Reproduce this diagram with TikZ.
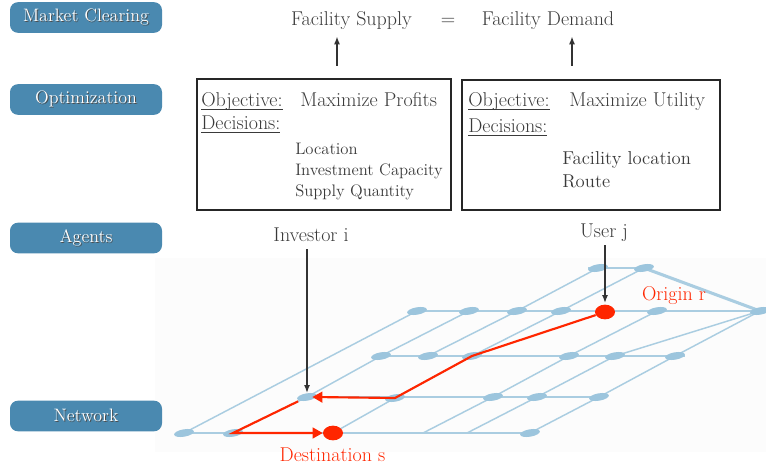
\documentclass[tikz,border=0pt]{standalone}
\usetikzlibrary{positioning,arrows.meta,shapes.geometric,calc}
\definecolor{tierblue}{HTML}{4A89B0}
\definecolor{netblue}{HTML}{AACDE1}
\definecolor{nodeblue}{HTML}{9CC5DD}
\definecolor{routered}{HTML}{FF2600}
\definecolor{inkgray}{HTML}{3A3A3A}
\newcommand{\tiertext}[1]{\makebox[0pt][l]{\hspace{0.7pt}\raisebox{-0.7pt}{\color{black!70}#1}}{\color{white}#1}}
\newcommand{\headword}[1]{\underline{\smash{#1}}}
\tikzset{
  tier/.style={rounded corners=6pt, fill=tierblue, minimum width=114pt,
    minimum height=23pt, inner sep=0pt, font=\fontsize{13.5}{15}\selectfont},
  decbox/.style={draw=black!85, line width=1.1pt, inner sep=0pt},
  lbl/.style={inner sep=0pt, text=inkgray, font=\fontsize{15}{17}\selectfont},
  smalllbl/.style={inner sep=0pt, text=inkgray, anchor=base west,
    font=\fontsize{12.5}{14}\selectfont},
  netline/.style={draw=netblue, line width=1.1pt},
  netnode/.style={ellipse, fill=nodeblue, minimum width=15pt, minimum height=5.5pt,
    inner sep=0pt, rotate=10},
  dot/.style={ellipse, fill=routered, minimum width=15pt, minimum height=11pt, inner sep=0pt},
  route/.style={draw=routered, line width=1.6pt},
  routearrow/.style={route, -{Triangle[length=7.5pt,width=8pt]}},
  grayarrow/.style={draw=black!80, line width=1.1pt, -{Latex[length=6pt,width=4.5pt]}}
}
\begin{document}
\begin{tikzpicture}[x=0.75pt, y=-0.75pt]
\useasboundingbox (0,0) rectangle (766,473);

% network background
\fill[black!1] (155,258) rectangle (766,452);

% tier labels on the left
\node[tier] (clearing) at (86,17.5) {\tiertext{Market Clearing}};
\node[tier] (optim) at (86,99.5) {\tiertext{Optimization}};
\node[tier] (agents) at (86,238) {\tiertext{Agents}};
\node[tier] (netw) at (86,416) {\tiertext{Network}};

% market clearing
\node[lbl, anchor=base] (supply) at (351.5,26) {Facility Supply};
\node[lbl, anchor=base] (equal) at (448,26) {=};
\node[lbl, anchor=base] (demand) at (548,26) {Facility Demand};
\coordinate (suptail) at (337,66);
\coordinate (demtail) at (572,66);
\draw[grayarrow] (suptail) -- ($(suptail |- supply.south)+(0,6)$);
\draw[grayarrow] (demtail) -- ($(demtail |- demand.south)+(0,6)$);

% investor problem
\node[decbox, minimum width=190.5pt, minimum height=98.25pt] (invbox) at (324,144.5) {};
\node[lbl, anchor=base west] (invobj) at (201,107) {\headword{Objective:}};
\node[lbl, anchor=base west] (invmax) at (300,107) {Maximize Profits};
\node[lbl, anchor=base west] (invdec) at (201,130) {\headword{Decisions:}};
\node[smalllbl] (invloc) at (295,155) {Location};
\node[smalllbl] (invcap) at (295,176) {Investment Capacity};
\node[smalllbl] (invqty) at (295,197) {Supply Quantity};

% user problem
\node[decbox, minimum width=193.5pt, minimum height=97.5pt] (userbox) at (591,145) {};
\node[lbl, anchor=base west] (userobj) at (468,107) {\headword{Objective:}};
\node[lbl, anchor=base west] (usermax) at (569,107) {Maximize Utility};
\node[lbl, anchor=base west] (userdec) at (468,133) {\headword{Decisions:}};
\node[smalllbl, font=\fontsize{14}{15}\selectfont] (userloc) at (562,165) {Facility location};
\node[smalllbl, font=\fontsize{14}{15}\selectfont] (userroute) at (562,188) {Route};

% network grid points
\coordinate (n01) at (598,268);
\coordinate (n02) at (644,268);
\coordinate (n11) at (417,311);
\coordinate (n12) at (469,311);
\coordinate (n13) at (517,311);
\coordinate (n14) at (561,311);
\coordinate (n15) at (657,311);
\coordinate (apex) at (760,311);
\coordinate (n21) at (381,356);
\coordinate (n22) at (428,356);
\coordinate (n23) at (472,356);
\coordinate (n24) at (569,356);
\coordinate (n25) at (615,356);
\coordinate (n26) at (675,356);
\coordinate (n31) at (307,397);
\coordinate (n32) at (395,398);
\coordinate (n33) at (493,397);
\coordinate (n34) at (537,397);
\coordinate (n35) at (599,397);
\coordinate (n41) at (184,433);
\coordinate (n42) at (233,433);
\coordinate (n43) at (530,433);
\coordinate (e4) at (423,433);
\coordinate (f4) at (467,433);

% rows
\draw[netline] (588,268) -- (648,268);
\draw[netline] (n11) -- (766,311);
\draw[netline] (n21) -- (685,356);
\draw[netline] (n31) -- (607,397);
\draw[netline] (n41) -- (537,433);

% diagonals
\draw[netline] (n41) -- (n11);
\draw[netline] (n42) -- (n31) -- (n21) -- (n12);
\draw[netline] (n22) -- (n13) -- (n01);
\draw[netline] (333,433) -- (n32) -- (n23) -- (n14) -- (n02);
\draw[netline] (e4) -- (n33) -- (n24) -- (n15);
\draw[netline] (f4) -- (n34) -- (n25) -- (apex);
\draw[netline] (n43) -- (n35) -- (n26) -- (apex);
\draw[netline, line width=2.3pt] (n02) -- (apex);

% grid nodes
\foreach \p in {n01,n02,n11,n12,n13,n14,n15,apex,n21,n22,n23,n24,n25,n26,
                n31,n32,n33,n34,n35,n41,n42,n43}
  \node[netnode] at (\p) {};

% origin and destination
\node[dot] (origin) at (605,312) {};
\node[dot] (dest) at (333,433) {};
\node[lbl, anchor=base, text=routered] (originlbl) at (674,301) {Origin r};
\node[lbl, anchor=base, text=routered] (destlbl) at (332.5,461) {Destination s};

% route from origin to destination
\draw[routearrow] (origin) -- (n23) -- (n32) -- ([xshift=4pt]n31);
\draw[routearrow] ($(n31)!0.12!(n42)$) -- (n42) -- (dest);

% agents
\node[lbl, anchor=base] (investor) at (311,242) {Investor i};
\node[lbl, anchor=base] (user) at (604,238) {User j};
\draw[grayarrow] ($(investor.south -| n31)+(0,7)$) -- ([yshift=3pt]n31);
\draw[grayarrow] ($(user.south -| origin)+(0,3)$) -- ([yshift=1pt]origin.north);

\end{tikzpicture}
\end{document}
